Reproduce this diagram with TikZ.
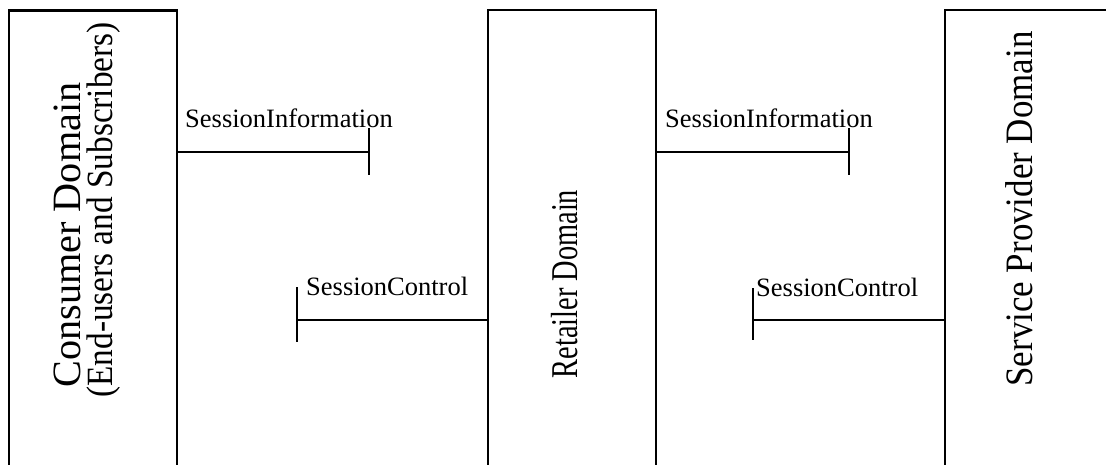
\documentclass[tikz,border=0pt]{standalone}
\usepackage{fontspec}
\setmainfont{Liberation Serif}
\newfontfamily\narrowserif[FakeStretch=0.75]{Liberation Serif}
\newfontfamily\slimserif[FakeStretch=0.9]{Liberation Serif}
\usepackage{tikz}
\usetikzlibrary{calc}

\begin{document}
\begin{tikzpicture}[x=1pt, y=-1pt,
    domainbox/.style={rectangle, draw, line width=2.6pt, inner sep=0, minimum width=168pt, minimum height=480pt},
    link/.style={line width=2.4pt},
    flowlabel/.style={inner sep=0, anchor=base west, font=\fontsize{26.5}{28}\selectfont},
    domaintext/.style={rotate=90, anchor=base, inner sep=0}]
        \useasboundingbox (0, 0) rectangle (1106, 465);

        \node (consumer) [domainbox] at (93, 250.5) {};
        \node (retailer) [domainbox] at (572, 250) {};
        \node (provider) [domainbox] at (1029, 250) {};

        \node (consumer1) [domaintext] at (80, 235) {\fontsize{40.2}{42}\selectfont Consumer Domain};
        \node (consumer2) [domaintext] at (112, 210) {\slimserif\fontsize{37}{40}\selectfont (End-users and Subscribers)};
        \node (retailername) [domaintext] at (577, 284) {\narrowserif\fontsize{37.8}{40}\selectfont Retailer Domain};
        \node (providername) [domaintext] at (1032, 209) {\slimserif\fontsize{38.8}{40}\selectfont Service Provider Domain};

        \coordinate (i0) at (369, 152);
        \coordinate (i0t) at (369, 128);
        \coordinate (i0b) at (369, 175);
        \coordinate (i1) at (849, 152);
        \coordinate (i1t) at (849, 128);
        \coordinate (i1b) at (849, 175);

        \coordinate (c0) at (297, 320);
        \coordinate (c0t) at (297, 287);
        \coordinate (c0b) at (297, 342);
        \coordinate (c1) at (753, 320);
        \coordinate (c1t) at (753, 288);
        \coordinate (c1b) at (753, 340);

        \node (info0) [flowlabel] at (185, 128) {SessionInformation};
        \node (info1) [flowlabel] at (665, 128) {SessionInformation};
        \node (ctrl0) [flowlabel] at (306, 295) {SessionControl};
        \node (ctrl1) [flowlabel] at (756, 296) {SessionControl};

        \path[link]
        (consumer.east |- i0) edge (i0)
        (i0t) edge (i0b)
        (retailer.east |- i1) edge (i1)
        (i1t) edge (i1b)

        (retailer.west |- c0) edge (c0)
        (c0t) edge (c0b)
        (provider.west |- c1) edge (c1)
        (c1t) edge (c1b)
        ;
\end{tikzpicture}
\end{document}
